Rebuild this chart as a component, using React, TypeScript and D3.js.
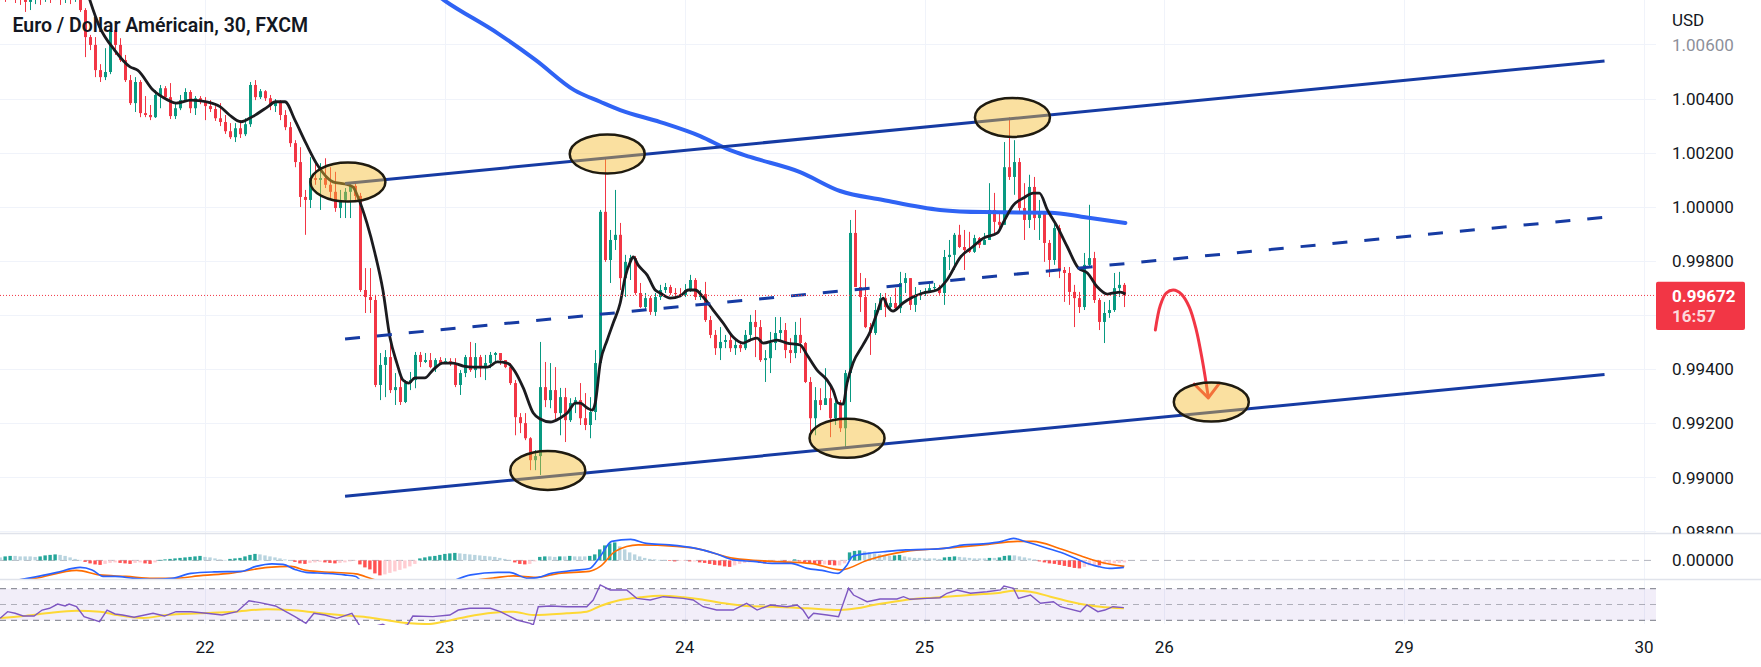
import React from "react";
import * as d3 from "d3";

// ---------- DATA ----------
// 30-minute candles, bar index t (0 = 22 Aug 00:00), prices in 1e-5 units
const T0 = -41;
const FIRST_OPEN = 100808;
const CLOSE = [
  100794, 100782, 100801, 100786, 100771, 100757, 100779, 100786, 100775, 100794, 100782, 100797, 100779, 100786, 100771, 100779,
  100727, 100627, 100598, 100505, 100479, 100498, 100653, 100598, 100542, 100468, 100383, 100461, 100346, 100339, 100331, 100413, 100438, 100405, 100335, 100364, 100394, 100424, 100364, 100401, 100387,
  100372, 100361, 100327, 100313, 100279, 100257, 100290, 100268, 100305, 100450, 100405, 100427, 100401, 100372, 100390, 100339, 100294, 100235, 100165, 100036, 100025, 100106, 100099, 100106, 100081, 100055, 99995, 100025, 100055, 100077, 100040,
  99692, 99666, 99655, 99341, 99415, 99444, 99322, 99333, 99278, 99348, 99359, 99452, 99426, 99433, 99407, 99433, 99422, 99429, 99418, 99341, 99385, 99444, 99396, 99444, 99403, 99422, 99452, 99459, 99433, 99407,
  99348, 99222, 99200, 99144, 99063, 99078, 99333, 99285, 99322, 99237, 99296, 99211, 99274, 99285, 99218, 99193, 99241, 99422, 99981, 99803, 99877, 99896, 99736, 99796, 99810, 99681, 99629, 99662, 99611, 99666,
  99692, 99703, 99681, 99677, 99674, 99692, 99729, 99666, 99677, 99581, 99526, 99477, 99500, 99507, 99477, 99489, 99477, 99526, 99574, 99555, 99433, 99440, 99496, 99533, 99544, 99470, 99459, 99526, 99496, 99352,
  99218, 99285, 99267, 99292, 99218, 99274, 99181, 99385, 99903, 99703, 99666, 99555, 99533, 99618, 99662, 99629, 99644, 99625, 99718, 99736, 99637, 99674, 99681, 99688, 99699, 99703, 99681, 99814, 99822, 99896,
  99851, 99840, 99833, 99884, 99859, 99877, 99988, 99944, 99933, 100146, 100110, 100165, 99995, 99951, 100073, 99958, 99977, 99866, 99803, 99921, 99766, 99755, 99685, 99662, 99629, 99785, 99810, 99655, 99574, 99607, 99618, 99699, 99711, 99672,
];
const HIGH = [
  100838, 100819, 100831, 100816, 100808, 100794, 100801, 100808, 100801, 100816, 100808, 100823, 100808, 100816, 100801, 100808,
  100794, 100734, 100635, 100627, 100527, 100586, 100660, 100672, 100623, 100561, 100487, 100479, 100468, 100409, 100376, 100431, 100450, 100446, 100457, 100383, 100413, 100438, 100431, 100409, 100409,
  100405, 100394, 100372, 100383, 100339, 100309, 100309, 100320, 100327, 100461, 100468, 100435, 100431, 100413, 100398, 100394, 100357, 100313, 100246, 100220, 100062, 100183, 100172, 100161, 100179, 100146, 100129, 100062, 100069, 100088, 100088,
  100051, 99773, 99773, 99674, 99459, 99470, 99496, 99385, 99385, 99359, 99389, 99463, 99463, 99459, 99459, 99440, 99444, 99440, 99440, 99440, 99396, 99452, 99500, 99496, 99452, 99452, 99463, 99463, 99452, 99433,
  99422, 99359, 99237, 99237, 99148, 99100, 99500, 99426, 99422, 99407, 99330, 99330, 99292, 99296, 99348, 99311, 99296, 99470, 99988, 100183, 99914, 100062, 99940, 99822, 99822, 99818, 99718, 99681, 99670, 99681,
  99711, 99718, 99711, 99699, 99699, 99714, 99748, 99736, 99692, 99722, 99596, 99544, 99555, 99526, 99526, 99507, 99500, 99544, 99600, 99618, 99581, 99470, 99537, 99592, 99592, 99570, 99514, 99574, 99589, 99500,
  99370, 99333, 99329, 99403, 99348, 99304, 99285, 99396, 99951, 99988, 99755, 99736, 99570, 99644, 99681, 99681, 99666, 99699, 99759, 99755, 99736, 99703, 99692, 99699, 99714, 99718, 99711, 99840, 99877, 99903,
  99933, 99914, 99907, 99896, 99888, 99903, 100087, 100051, 99977, 100239, 100331, 100246, 100180, 100087, 100118, 100110, 100025, 99981, 99877, 99951, 99933, 99777, 99777, 99711, 99685, 99829, 100007, 99833, 99662, 99648, 99655, 99755, 99759, 99718,
];
const LOW = [
  100764, 100757, 100764, 100753, 100746, 100720, 100727, 100749, 100746, 100757, 100753, 100764, 100746, 100753, 100749, 100757,
  100720, 100553, 100579, 100479, 100461, 100468, 100490, 100561, 100535, 100461, 100376, 100350, 100331, 100331, 100320, 100328, 100364, 100398, 100324, 100324, 100357, 100387, 100346, 100339, 100379,
  100320, 100350, 100317, 100298, 100269, 100250, 100239, 100254, 100261, 100295, 100394, 100398, 100391, 100357, 100350, 100320, 100283, 100221, 100146, 99999, 99896, 99995, 100081, 99988, 100069, 100032, 99981, 99958, 99958, 99958, 100025,
  99685, 99607, 99607, 99333, 99285, 99296, 99311, 99267, 99267, 99274, 99322, 99329, 99407, 99422, 99403, 99389, 99415, 99418, 99411, 99333, 99304, 99370, 99389, 99367, 99370, 99359, 99403, 99422, 99415, 99403,
  99341, 99155, 99163, 99137, 99026, 99026, 99008, 99259, 99255, 99211, 99155, 99130, 99204, 99237, 99193, 99174, 99144, 99211, 99422, 99796, 99718, 99840, 99692, 99666, 99729, 99674, 99625, 99618, 99600, 99596,
  99655, 99681, 99674, 99670, 99666, 99666, 99685, 99655, 99655, 99574, 99514, 99452, 99433, 99477, 99463, 99452, 99463, 99470, 99507, 99444, 99426, 99352, 99385, 99470, 99507, 99440, 99422, 99440, 99459, 99348,
  99167, 99155, 99248, 99267, 99148, 99193, 99167, 99111, 99278, 99703, 99611, 99551, 99452, 99526, 99618, 99592, 99625, 99618, 99607, 99681, 99618, 99611, 99655, 99670, 99681, 99688, 99674, 99637, 99766, 99766,
  99847, 99766, 99829, 99829, 99847, 99859, 99877, 99903, 99907, 99933, 100099, 100044, 99981, 99877, 99921, 99914, 99877, 99796, 99740, 99785, 99736, 99648, 99637, 99555, 99607, 99618, 99777, 99644, 99544, 99496, 99589, 99611, 99666, 99629,
];

// short moving average (black), [t, price 1e-5]
const MA_FAST: [number, number][] = [
  [-24, 100819], [-21.1, 100665], [-18.1, 100579], [-15, 100517], [-13.5, 100505], [-10.4, 100431], [-7.4, 100394], [-5.8, 100383],
  [-2.8, 100394], [0.3, 100388], [3, 100370], [4.9, 100339], [7.2, 100314], [9.5, 100333], [12.6, 100370], [14.1, 100388], [16, 100388],
  [18, 100320], [20.2, 100235], [22.5, 100154], [25.6, 100092], [28, 100084], [29.6, 100073], [30.6, 100036], [32.4, 99940], [34, 99829],
  [35.6, 99692], [37, 99518], [38.4, 99422], [39.6, 99359], [40.8, 99348], [42, 99367], [44, 99367], [45.6, 99396], [47.6, 99422],
  [49.6, 99422], [51.7, 99411], [53.7, 99407], [56.5, 99407], [58.5, 99426], [60.5, 99422], [62.1, 99389], [63.7, 99330], [65.7, 99237],
  [67.1, 99215], [69.1, 99204], [71.1, 99219], [72.5, 99237], [74.1, 99274], [75.1, 99274], [76.5, 99256], [77.5, 99248], [78.1, 99274],
  [79.1, 99422], [80.5, 99507], [81.7, 99570], [83.1, 99644], [84.1, 99740], [85.1, 99795], [85.7, 99814], [86.7, 99784], [88.5, 99747],
  [90.1, 99692], [91.1, 99681], [93.1, 99662], [95.1, 99670], [96.7, 99692], [98.1, 99692], [99.7, 99666], [101.7, 99618], [103.7, 99570],
  [105.7, 99518], [107.7, 99496], [109.1, 99507], [110.5, 99514], [111.7, 99496], [114.5, 99507], [116.5, 99496], [119.1, 99489],
  [120.5, 99452], [122.5, 99396], [124.5, 99359], [125.7, 99322], [126.7, 99274], [127.7, 99270], [128.5, 99348], [129.7, 99422],
  [131.7, 99489], [133.1, 99537], [134.5, 99607], [135.7, 99662], [136.7, 99629], [137.7, 99614], [139.7, 99644], [141.7, 99666],
  [143.7, 99681], [146.5, 99692], [148.5, 99729], [151.2, 99814], [153.6, 99851], [155.8, 99884], [158.6, 99903], [159.8, 99943],
  [161.8, 100006], [163.8, 100032], [165.8, 100050], [167, 100050], [168.6, 99988], [170.6, 99925], [172.6, 99851], [174.8, 99773],
  [176.6, 99755], [178.6, 99703], [180.6, 99677], [181.8, 99681], [183.2, 99684], [184.2, 99677],
];

// long moving average (blue)
const MA_SLOW: [number, number][] = [
  [40, 100875], [47.8, 100764], [58.6, 100641], [66.2, 100542], [73.9, 100431], [79.1, 100388], [83.1, 100357], [91.1, 100313],
  [99.1, 100261], [105.1, 100209], [109.1, 100184], [119.1, 100128], [127.1, 100058], [135.7, 100025], [147.1, 99988],
  [155.8, 99980], [169.2, 99978], [175.8, 99962], [184.2, 99940],
];

// MACD histogram (1e-5 units), one per bar
const HIST = [
  6, 8, 9, 9, 8, 8, 8, 7, 8, 10, 11, 12, 11, 9, 6, 3,
  1, -3, -6, -8, -9, -7, -5, -4, -5, -6, -7, -5, -4, -6, -7, -4, 1, 2, 3, 4, 5, 6, 7, 8, 9,
  7, 6, 4, 2, 1, 3, 4, 5, 8, 11, 13, 12, 10, 8, 6, 4, 2, 0, -3, -6, -7, -5, -4, -3, -4, -5, -6, -5, -4, -2, -1,
  -8, -14, -18, -26, -30, -28, -25, -22, -19, -16, -12, -7, 4, 6, 8, 9, 11, 13, 14, 15, 14, 13, 12, 11, 10, 9, 8, 7, 5, 3,
  1, -4, -7, -8, -7, -2, 7, 8, 8, 7, 8, 8, 9, 8, 8, 8, 9, 12, 22, 30, 34, 36, 28, 22, 16, 12, 8, 5, 3, 2,
  1, 1, -1, -2, -1, -1, -2, -2, -4, -5, -7, -9, -10, -12, -13, -10, -7, -5, -4, -3, -5, -6, -5, -4, -3, -4, -2, 2, -2, -4,
  -6, -7, -8, -8, -9, -10, -10, -6, 16, 19, 20, 18, 16, 14, 12, 10, 9, 10, 11, 8, 6, 5, 5, 4, 4, 4, 3, 6, 7, 8,
  7, 6, 5, 4, 4, 4, 5, 5, 6, 9, 10, 10, 8, 6, 4, 2, -2, -4, -6, -7, -9, -11, -13, -15, -16, -13, -10, -9, -10, -8, -7, -6, -5, -4,
];
const MACD_LINE: [number, number][] = [
  [-41, -45], [-33.4, -32], [-29.6, -24], [-26.5, -16], [-25, -14], [-22.6, -19], [-20.4, -32], [-18, -32], [-14.2, -36], [-10.4, -38],
  [-6.6, -36], [-2.8, -26], [1.8, -23], [7.2, -22], [10.2, -12], [13.4, -7], [15.6, -8], [18, -18], [20.2, -24], [24, -26], [27.9, -29],
  [30.2, -32], [31, -39], [34, -60], [38, -72], [42, -68], [47, -52], [53.2, -29], [58.6, -24], [60.9, -24], [64.7, -36], [66.2, -35],
  [69.3, -26], [73.9, -20], [77, -16], [79.1, 8], [81.4, 38], [85.2, 42], [88.3, 34], [92.9, 31], [98.2, 24], [102.1, 14], [105.9, 1],
  [109.7, -2], [113.5, -6], [117.3, -6], [120.5, -16], [123.5, -20], [126.7, -26], [128.5, -9], [129.6, 8], [132.7, 14], [136.5, 18],
  [140.3, 21], [144.1, 22], [147.9, 24], [151.9, 31], [155.7, 33], [159.5, 38], [161.8, 44], [164.1, 38], [168.7, 24], [172.6, 11],
  [175.6, -2], [178.7, -12], [181, -16], [183.9, -14],
];
const SIGNAL_LINE: [number, number][] = [
  [-41, -42], [-34.2, -36], [-25.7, -20], [-21.1, -29], [-15.8, -32], [-10.4, -36], [-6.6, -36], [-0.4, -30], [4.9, -26], [12.6, -14],
  [17.2, -12], [20.2, -20], [25.6, -24], [30.2, -27], [33.2, -36], [40, -55], [46, -52], [52, -42], [57.8, -35], [61.7, -31], [66.2, -34],
  [70.8, -26], [76.9, -22], [79.1, -12], [82.1, 18], [86.7, 31], [94.4, 28], [98.2, 24], [105.9, 4], [113.5, -2], [121.2, -6],
  [127.3, -19], [132.7, 1], [140.3, 18], [147.9, 24], [155.7, 31], [162.6, 38], [165.7, 38], [171, 24], [175.6, 8], [178.7, -2], [184, -12],
];
const RSI_LINE: [number, number][] = [
  [-41, 32.5], [-39.5, 40.9], [-38, 38.9], [-36.4, 35.4], [-34.2, 35.4], [-32.6, 43], [-31.1, 45.2], [-29.5, 50.6], [-28, 48.1],
  [-27.2, 50.6], [-25.7, 47.2], [-24.2, 34.6], [-21.1, 28.2], [-19.6, 43], [-18, 38], [-16.5, 36.7], [-14.2, 33.8], [-10.4, 38.9],
  [-8.1, 35.4], [-5.8, 40.9], [-2.8, 40.9], [0.3, 38.9], [3.4, 36.7], [6.4, 40.9], [8.8, 54.8], [11, 52.3], [14.1, 48.1], [18, 34.6],
  [20.2, 26.2], [21.8, 38.9], [24, 36.7], [26.4, 32.5], [29.4, 38.9], [31, 22.8], [33, 21], [35.6, 25], [37, 20], [39, 22], [40.5, 24],
  [41.6, 35.4], [45.6, 34.6], [49, 36.7], [50.7, 43], [53, 45.2], [57.1, 45.2], [59.1, 40.9], [62.4, 30.4], [65.1, 26.2], [65.7, 24.1],
  [66.7, 47.2], [69.1, 48.1], [72.4, 47.2], [76.4, 47.2], [77.7, 55.7], [79.1, 74.7], [81.1, 68.4], [84.4, 68.4], [86.4, 57.8],
  [89.1, 55.7], [91.7, 59.9], [95.7, 57.8], [97.7, 55.7], [99.7, 47.2], [102.4, 43], [105.7, 43], [108.4, 51.5], [110.5, 43],
  [113.1, 49.4], [116.5, 47.2], [118.5, 49.4], [119.7, 43], [120.8, 32.5], [121.8, 38.9], [124.5, 36.7], [126.8, 34.6], [128.8, 70.5],
  [129.8, 62], [132.5, 53.5], [135.1, 57], [138.5, 57], [139.8, 59.9], [141.1, 56.6], [144.5, 57.8], [147.1, 58.6], [148.5, 64.2],
  [150.5, 68.4], [153.2, 64.2], [156.5, 66.2], [159.2, 68.4], [159.9, 73.4], [161.8, 70.5], [162.8, 57.8], [165.2, 62], [167.2, 51.5],
  [169.8, 53.5], [171.2, 47.2], [175.2, 40.9], [176.5, 49.4], [178.7, 40.9], [180.1, 43], [181.7, 47.2], [183.9, 46],
];
const RSI_MA: [number, number][] = [
  [-41, 32.9], [-36.4, 35.4], [-31.8, 38.9], [-25.7, 42.2], [-21, 40.9], [-17.7, 36.7], [-12.4, 32.9], [-7.7, 36.7], [-1, 38.9],
  [5.6, 40.9], [12.4, 43.9], [17, 43], [22.4, 39.6], [27, 36.7], [32.4, 33.8], [37, 29.5], [41, 26.2], [44.4, 25.3], [47.7, 28.2],
  [52.4, 34.6], [57.7, 39.6], [61.7, 40.9], [65.7, 36.7], [72.4, 38.9], [76.4, 40.9], [79.1, 48.1], [83.1, 55.7], [87.1, 59.1],
  [91.1, 61.1], [95.8, 59.1], [99.1, 56.6], [103.1, 52.3], [108.4, 48.1], [113.8, 47.2], [120.5, 45.2], [127.1, 43], [130.5, 45.2],
  [133.8, 49.4], [137.8, 53.5], [141.8, 57], [145.8, 58.6], [151.2, 61.1], [155.8, 63.3], [159.2, 64.9], [161.8, 67.5], [165.2, 66.2],
  [169.2, 59.9], [173.2, 53.5], [176.5, 49.4], [179.2, 47.2], [183.9, 45.2],
];

// drawings (t, price)
const CHANNEL_UPPER: [number, number][] = [[28.03, 1.00086], [280.1, 1.00539]];
const CHANNEL_MID: [number, number][] = [[28.03, 0.99511], [280.1, 0.99961]];
const CHANNEL_LOWER: [number, number][] = [[28.03, 0.9893], [280.1, 0.9938]];
const ELLIPSES: [number, number][] = [
  [28.6, 1.00091], [80.5, 1.00195], [68.6, 0.99025], [128.5, 0.99144], [161.6, 1.0033], [201.4, 0.99278],
];
const ARROW_PATH: [number, number][] = [
  [190.2, 0.99544], [191.2, 0.99636], [192.4, 0.99681], [193.8, 0.99692], [195.4, 0.99677], [197, 0.99629],
  [198.4, 0.99544], [199.6, 0.99433], [200.8, 0.99296],
];
const ARROW_HEAD: [number, number][] = [[198.0, 0.99344], [200.8, 0.99293], [203.0, 0.99347]];

const PRICE_TICKS = [1.006, 1.004, 1.002, 1.0, 0.998, 0.996, 0.994, 0.992, 0.99, 0.988];
const DAY_T = [0, 48, 96, 144, 192, 240, 288];
const DAY_LABELS = ["22", "23", "24", "25", "26", "29", "30"];
const TITLE = "Euro / Dollar Américain, 30, FXCM";
const CURRENCY = "USD";
const COUNTDOWN = "16:57";

// ---------- LAYOUT ----------
const W = 1761;
const H = 667;
const PLOT_R = 1656;
const MAIN_BOT = 533.5;
const MACD_TOP = 533.5;
const MACD_BOT = 579.5;
const RSI_TOP = 579.5;
const RSI_BOT = 625;
const AXIS_X = 1672;
const AXIS_FS = 17;
const FONT = "Roboto, 'Noto Sans', Arial, sans-serif";

const GREEN = "#089981";
const RED = "#f23645";
const LINE_BLUE = "#163ba3";

export default function App() {
  const x = d3.scaleLinear().domain([0, 288]).range([205, 1644]);
  const y = d3.scaleLinear().domain([0.988, 1.006]).range([531.3, 44.4]);
  const yM = d3.scaleLinear().domain([0, 10]).range([560.4, 555.4]);
  const yR = d3.scaleLinear().domain([30, 70]).range([620.3, 588.7]);

  const candles = CLOSE.map((c, i) => {
    const o = i === 0 ? FIRST_OPEN : CLOSE[i - 1];
    const h = Math.max(HIGH[i], o, c);
    const l = Math.min(LOW[i], o, c);
    return { t: T0 + i, o: o / 1e5, c: c / 1e5, h: h / 1e5, l: l / 1e5 };
  });

  const priceLine = d3
    .line<[number, number]>()
    .x((d) => x(d[0]))
    .y((d) => y(d[1] / 1e5))
    .curve(d3.curveMonotoneX);
  const rawLine = d3
    .line<[number, number]>()
    .x((d) => x(d[0]))
    .y((d) => y(d[1]));
  const curvedRaw = d3
    .line<[number, number]>()
    .x((d) => x(d[0]))
    .y((d) => y(d[1]))
    .curve(d3.curveCatmullRom.alpha(0.5));
  const macdLine = d3
    .line<[number, number]>()
    .x((d) => x(d[0]))
    .y((d) => yM(d[1]))
    .curve(d3.curveMonotoneX);
  const rsiLine = d3
    .line<[number, number]>()
    .x((d) => x(d[0]))
    .y((d) => yR(d[1]));
  const rsiMaLine = d3
    .line<[number, number]>()
    .x((d) => x(d[0]))
    .y((d) => yR(d[1]))
    .curve(d3.curveMonotoneX);

  const last = CLOSE[CLOSE.length - 1] / 1e5;
  const yLast = y(last);
  const tagTop = yLast - 13.7;
  const tagBot = yLast + 34.6;

  const histColor = (v: number, prev: number) => {
    if (v >= 0) return v > prev ? "#26a69a" : "#b9d4df";
    return v < prev ? "#ff5252" : "#ffcdd2";
  };

  // axis labels hidden behind the last-price tag are not drawn (as in the platform)
  const visibleTicks = PRICE_TICKS.filter((p) => {
    const yy = y(p);
    return yy + 8 < tagTop || yy - 8 > tagBot;
  });

  return (
    <div style={{ position: "absolute", left: 0, top: 0 }}>
      <style>{`body{margin:0}`}</style>
      <svg width={W} height={H} style={{ display: "block", background: "#ffffff" }} fontFamily={FONT}>
        <defs>
          <clipPath id="clipMain">
            <rect x={0} y={0} width={PLOT_R} height={MAIN_BOT} />
          </clipPath>
          <clipPath id="clipMacd">
            <rect x={0} y={MACD_TOP} width={PLOT_R} height={MACD_BOT - MACD_TOP} />
          </clipPath>
          <clipPath id="clipRsi">
            <rect x={0} y={RSI_TOP} width={PLOT_R} height={RSI_BOT - RSI_TOP} />
          </clipPath>
          <clipPath id="clipAxis">
            <rect x={PLOT_R} y={0} width={W - PLOT_R} height={MAIN_BOT} />
          </clipPath>
        </defs>

        {/* grid */}
        <g stroke="#f0f3fa" strokeWidth={1}>
          {PRICE_TICKS.map((p) => (
            <line key={p} x1={0} x2={PLOT_R} y1={Math.round(y(p)) + 0.5} y2={Math.round(y(p)) + 0.5} />
          ))}
          {DAY_T.map((t) => (
            <line key={t} x1={Math.round(x(t)) + 0.5} x2={Math.round(x(t)) + 0.5} y1={0} y2={624} />
          ))}
        </g>

        {/* RSI band */}
        <g clipPath="url(#clipRsi)">
          <rect x={0} y={yR(70)} width={PLOT_R} height={yR(30) - yR(70)} fill="rgba(126,87,194,0.1)" />
          <line x1={0} x2={PLOT_R} y1={yR(70)} y2={yR(70)} stroke="#787b86" strokeDasharray="6 5" />
          <line x1={0} x2={PLOT_R} y1={yR(50)} y2={yR(50)} stroke="rgba(120,123,134,0.55)" strokeDasharray="6 5" />
          <line x1={0} x2={PLOT_R} y1={yR(30)} y2={yR(30)} stroke="#787b86" strokeDasharray="6 5" />
          <path d={rsiMaLine(RSI_MA) || ""} fill="none" stroke="#fdd835" strokeWidth={2} />
          <path d={rsiLine(RSI_LINE) || ""} fill="none" stroke="#7e57c2" strokeWidth={1.4} />
        </g>

        {/* MACD */}
        <g clipPath="url(#clipMacd)">
          <line x1={0} x2={PLOT_R} y1={yM(0)} y2={yM(0)} stroke="#b2b5be" strokeDasharray="7 5" />
          {HIST.map((v, i) => {
            const prev = i === 0 ? v : HIST[i - 1];
            const t = T0 + i;
            const y0 = yM(0);
            const y1 = yM(v);
            return (
              <rect
                key={i}
                x={x(t) - 1.7}
                width={3.4}
                y={Math.min(y0, y1)}
                height={Math.max(0.6, Math.abs(y1 - y0))}
                fill={histColor(v, prev)}
              />
            );
          })}
          <path d={macdLine(SIGNAL_LINE) || ""} fill="none" stroke="#ff6d00" strokeWidth={1.6} />
          <path d={macdLine(MACD_LINE) || ""} fill="none" stroke="#2962ff" strokeWidth={1.6} />
        </g>

        {/* main pane */}
        <g clipPath="url(#clipMain)">
          {candles.map((d) => {
            const cx = Math.round(x(d.t)) + 0.5;
            const col = d.c >= d.o ? GREEN : RED;
            const top = y(Math.max(d.o, d.c));
            const bot = y(Math.min(d.o, d.c));
            return (
              <g key={d.t}>
                <line x1={cx} x2={cx} y1={y(d.h)} y2={y(d.l)} stroke={col} strokeWidth={1} />
                <rect x={cx - 1.5} width={3} y={top} height={Math.max(1, bot - top)} fill={col} />
              </g>
            );
          })}

          <path d={priceLine(MA_SLOW) || ""} fill="none" stroke="#2f63f4" strokeWidth={4} strokeLinecap="round" />
          <path d={priceLine(MA_FAST) || ""} fill="none" stroke="#1b1b1f" strokeWidth={2.8} strokeLinejoin="round" />

          <path d={rawLine(CHANNEL_UPPER) || ""} stroke={LINE_BLUE} strokeWidth={3} fill="none" />
          <path d={rawLine(CHANNEL_LOWER) || ""} stroke={LINE_BLUE} strokeWidth={3} fill="none" />
          <path d={rawLine(CHANNEL_MID) || ""} stroke={LINE_BLUE} strokeWidth={3} fill="none" strokeDasharray="15 17" />

          <line x1={0} x2={PLOT_R} y1={yLast} y2={yLast} stroke={RED} strokeWidth={1} strokeDasharray="1 2" />

          <path d={curvedRaw(ARROW_PATH) || ""} stroke={RED} strokeWidth={3} fill="none" strokeLinecap="round" />
          <path d={rawLine(ARROW_HEAD) || ""} stroke={RED} strokeWidth={3} fill="none" strokeLinecap="round" strokeLinejoin="round" />

          {ELLIPSES.map((e, i) => (
            <ellipse
              key={i}
              cx={x(e[0])}
              cy={y(e[1])}
              rx={37.5}
              ry={19.5}
              fill="rgba(244,186,44,0.45)"
              stroke="#1f1b10"
              strokeWidth={2.5}
            />
          ))}
        </g>

        {/* separators */}
        <line x1={0} x2={W} y1={MAIN_BOT} y2={MAIN_BOT} stroke="#e0e3eb" strokeWidth={1.5} />
        <line x1={0} x2={W} y1={MACD_BOT} y2={MACD_BOT} stroke="#e0e3eb" strokeWidth={1.5} />

        {/* title */}
        <text x={12.5} y={31.5} fontSize={19.5} fontWeight={600} fill="#131722">
          {TITLE}
        </text>

        {/* price axis */}
        <text x={AXIS_X} y={26} fontSize={AXIS_FS} fill="#131722">
          {CURRENCY}
        </text>
        <g clipPath="url(#clipAxis)">
          {visibleTicks.map((p) => (
            <text key={p} x={AXIS_X} y={y(p) + 6.3} fontSize={AXIS_FS} fill={p === PRICE_TICKS[0] ? "#8d909a" : "#131722"}>
              {p.toFixed(5)}
            </text>
          ))}
        </g>
        <text x={AXIS_X} y={yM(0) + 6} fontSize={AXIS_FS} fill="#131722">
          {(0).toFixed(5)}
        </text>

        {/* last price tag */}
        <rect x={PLOT_R} y={tagTop} width={89} height={tagBot - tagTop} rx={2} fill={RED} />
        <text x={AXIS_X} y={yLast + 6.3} fontSize={AXIS_FS} fontWeight={700} fill="#ffffff">
          {last.toFixed(5)}
        </text>
        <text x={AXIS_X} y={yLast + 26.8} fontSize={AXIS_FS} fontWeight={700} fill="rgba(255,255,255,0.82)">
          {COUNTDOWN}
        </text>

        {/* time axis */}
        {DAY_T.map((t, i) => (
          <text key={t} x={x(t)} y={653} fontSize={17} fill="#131722" textAnchor="middle">
            {DAY_LABELS[i]}
          </text>
        ))}
      </svg>
    </div>
  );
}
